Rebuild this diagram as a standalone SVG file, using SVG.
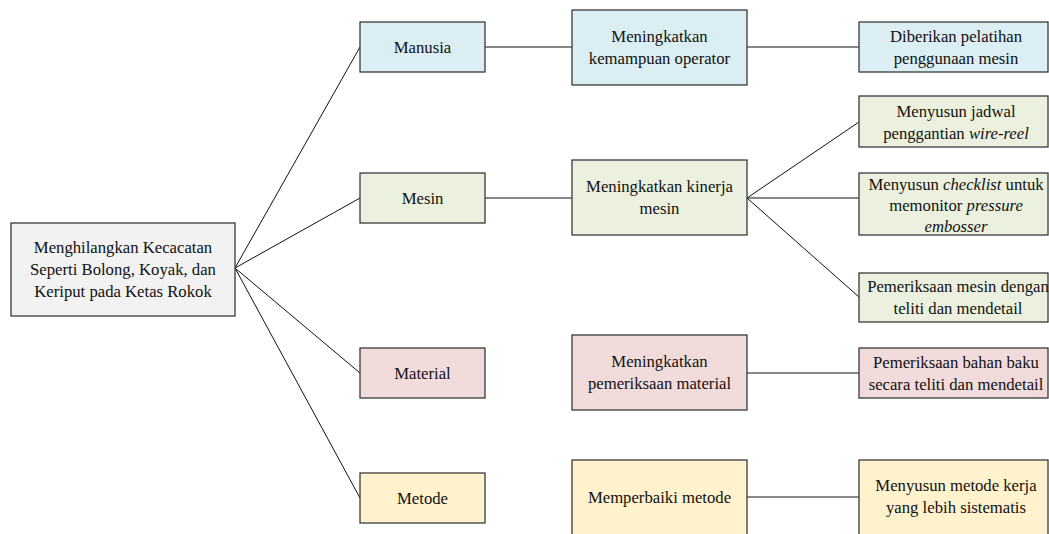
<svg xmlns="http://www.w3.org/2000/svg" width="1049" height="534" viewBox="0 0 1049 534">
<style>
.box{stroke:#3a3a3a;stroke-width:1.3}
.gray{fill:#F2F2F2}.blue{fill:#DBEEF3}.green{fill:#EBF1DE}.pink{fill:#F2DCDB}.yellow{fill:#FFF2CC}
text{font-family:"Liberation Serif","Times New Roman",serif;font-size:16.7px;fill:#111;text-anchor:middle}
.it{font-style:italic}
.conn line{stroke:#111;stroke-width:1}
</style>
<rect width="1049" height="534" fill="#fff"/>
<g class="conn">
<line x1="235" y1="268" x2="360" y2="47"/>
<line x1="235" y1="268" x2="360" y2="198"/>
<line x1="235" y1="268" x2="360" y2="373"/>
<line x1="235" y1="268" x2="360" y2="498"/>
<line x1="485" y1="47" x2="572" y2="47"/>
<line x1="747" y1="47" x2="859" y2="47"/>
<line x1="485" y1="198" x2="572" y2="198"/>
<line x1="747" y1="198" x2="859" y2="122"/>
<line x1="747" y1="198" x2="859" y2="198"/>
<line x1="747" y1="198" x2="859" y2="297"/>
<line x1="747" y1="373" x2="859" y2="373"/>
<line x1="747" y1="497" x2="859" y2="497"/>
</g>
<g id="root"><rect class="box gray" x="11" y="223" width="224" height="93"/>
<text x="123" y="253">Menghilangkan Kecacatan</text><text x="123" y="275">Seperti Bolong, Koyak, dan</text><text x="123" y="297">Keriput pada Ketas Rokok</text></g>
<g id="manusia"><rect class="box blue" x="360" y="22" width="125" height="50"/><text x="422.5" y="52.5">Manusia</text></g>
<g id="mesin"><rect class="box green" x="360" y="173" width="125" height="50"/><text x="422.5" y="203.5">Mesin</text></g>
<g id="material"><rect class="box pink" x="360" y="348" width="125" height="50"/><text x="422.5" y="378.5">Material</text></g>
<g id="metode"><rect class="box yellow" x="360" y="473" width="125" height="50"/><text x="422.5" y="503.5">Metode</text></g>
<g id="kemampuan"><rect class="box blue" x="572" y="10" width="175" height="75"/><text x="659.5" y="42">Meningkatkan</text><text x="659.5" y="64">kemampuan operator</text></g>
<g id="kinerja"><rect class="box green" x="572" y="160" width="175" height="75"/><text x="659.5" y="192">Meningkatkan kinerja</text><text x="659.5" y="214">mesin</text></g>
<g id="periksa-material"><rect class="box pink" x="572" y="335" width="175" height="75"/><text x="659.5" y="367">Meningkatkan</text><text x="659.5" y="389">pemeriksaan material</text></g>
<g id="perbaiki-metode"><rect class="box yellow" x="572" y="460" width="175" height="80"/><text x="659.5" y="502.5">Memperbaiki metode</text></g>
<g id="pelatihan"><rect class="box blue" x="859" y="22" width="189" height="50"/><text x="956" y="41.5">Diberikan pelatihan</text><text x="956" y="63.5">penggunaan mesin</text></g>
<g id="jadwal"><rect class="box green" x="859" y="96" width="189" height="51"/><text x="956" y="117">Menyusun jadwal</text><text x="956" y="139">penggantian <tspan class="it">wire-reel</tspan></text></g>
<g id="checklist"><rect class="box green" x="859" y="173" width="189" height="62"/><text x="956" y="190">Menyusun <tspan class="it">checklist</tspan> untuk</text><text x="956" y="211">memonitor <tspan class="it">pressure</tspan></text><text x="956" y="232" class="it">embosser</text></g>
<g id="periksa-mesin"><rect class="box green" x="859" y="273" width="189" height="49"/><text x="958" y="292">Pemeriksaan mesin dengan</text><text x="958" y="314">teliti dan mendetail</text></g>
<g id="bahan-baku"><rect class="box pink" x="859" y="348" width="189" height="50"/><text x="956" y="367.5">Pemeriksaan bahan baku</text><text x="956" y="389.5">secara teliti dan mendetail</text></g>
<g id="metode-kerja"><rect class="box yellow" x="859" y="460" width="189" height="80"/><text x="956" y="490.5">Menyusun metode kerja</text><text x="956" y="512.5">yang lebih sistematis</text></g>
</svg>
